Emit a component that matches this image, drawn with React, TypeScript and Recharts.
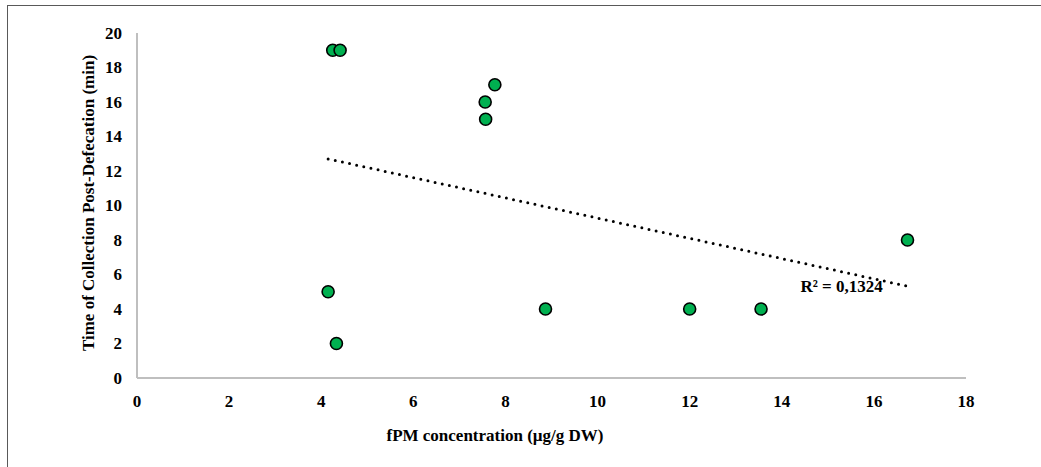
import React from 'react';
import { ScatterChart, Scatter, XAxis, YAxis, ReferenceDot } from 'recharts';

const fpmConcentration = [4.15, 4.33, 4.25, 4.41, 7.56, 7.57, 7.77, 8.87, 12.0, 13.55, 16.73];
const collectionMinutes = [5, 2, 19, 19, 16, 15, 17, 4, 4, 4, 8];
const xTicks = [0, 2, 4, 6, 8, 10, 12, 14, 16, 18];
const yTicks = [0, 2, 4, 6, 8, 10, 12, 14, 16, 18, 20];
const r2Text = 'R² = 0,1324';
const xTitle = 'fPM concentration (µg/g DW)';
const yTitle = 'Time of Collection Post-Defecation (min)';

const points = fpmConcentration.map((x, i) => ({ x, y: collectionMinutes[i] }));

// least-squares linear trendline from the data
const n = points.length;
const mx = fpmConcentration.reduce((a, b) => a + b, 0) / n;
const my = collectionMinutes.reduce((a, b) => a + b, 0) / n;
let sxy = 0;
let sxx = 0;
points.forEach((p) => {
  sxy += (p.x - mx) * (p.y - my);
  sxx += (p.x - mx) * (p.x - mx);
});
const slope = sxy / sxx;
const intercept = my - slope * mx;
const minX = Math.min(...fpmConcentration);
const maxX = Math.max(...fpmConcentration);
const trend = [
  { x: minX, y: intercept + slope * minX },
  { x: maxX, y: intercept + slope * maxX },
];

const FONT = '"Liberation Serif", "Times New Roman", serif';
const FS = 17;

const XTick = (props: any) => {
  const { x, y, payload } = props;
  return (
    <text x={x} y={y} dy={15} textAnchor="middle" dominantBaseline="central" fontFamily={FONT} fontWeight="bold" fontSize={FS} fill="#000">
      {payload.value}
    </text>
  );
};

const YTick = (props: any) => {
  const { x, y, payload } = props;
  return (
    <text x={x - 7} y={y} textAnchor="end" dominantBaseline="central" fontFamily={FONT} fontWeight="bold" fontSize={FS} fill="#000">
      {payload.value}
    </text>
  );
};

const Marker = (props: any) => {
  const { cx, cy } = props;
  if (cx == null || cy == null) return null;
  return <circle cx={cx} cy={cy} r={6} fill="#00B050" stroke="#000" strokeWidth={1.6} />;
};

const NoShape = () => null;

export default function App() {
  return (
    <div style={{ position: 'absolute', left: 0, top: 0, width: 1041, height: 467, overflow: 'hidden', background: '#fff' }}>
      <div
        style={{
          position: 'absolute',
          left: 7,
          top: 5,
          width: 1100,
          height: 500,
          borderLeft: '1.5px solid #595959',
          borderTop: '1.5px solid #595959',
        }}
      />
      <div style={{ position: 'absolute', left: 0, top: 0 }}>
        <ScatterChart width={1041} height={467} margin={{ top: 33, right: 75, left: 0, bottom: 0 }}>
          <XAxis
            type="number"
            dataKey="x"
            domain={[0, 18]}
            ticks={xTicks}
            interval={0}
            height={89}
            tickLine={false}
            axisLine={{ stroke: '#bfbfbf', strokeWidth: 2 }}
            tick={<XTick />}
            label={{
              content: () => (
                <text x={495} y={435} textAnchor="middle" dominantBaseline="central" fontFamily={FONT} fontWeight="bold" fontSize={FS} fill="#000">
                  {xTitle}
                </text>
              ),
            }}
          />
          <YAxis
            type="number"
            dataKey="y"
            domain={[0, 20]}
            ticks={yTicks}
            interval={0}
            width={137}
            tickLine={false}
            axisLine={{ stroke: '#bfbfbf', strokeWidth: 2 }}
            tick={<YTick />}
            label={{
              content: () => (
                <text
                  x={88}
                  y={203}
                  transform="rotate(-90 88 203)"
                  textAnchor="middle"
                  dominantBaseline="central"
                  fontFamily={FONT}
                  fontWeight="bold"
                  fontSize={FS}
                  fill="#000"
                >
                  {yTitle}
                </text>
              ),
            }}
          />
          <Scatter
            data={trend}
            shape={<NoShape />}
            line={{ stroke: '#000', strokeWidth: 3, strokeDasharray: '0 7.3', strokeLinecap: 'round' }}
            isAnimationActive={false}
            legendType="none"
          />
          <Scatter data={points} shape={<Marker />} isAnimationActive={false} />
          <ReferenceDot
            x={15.3}
            y={5.3}
            r={0}
            fill="none"
            stroke="none"
            label={{
              content: (p: any) => {
                const vb = p.viewBox || {};
                return (
                  <text x={vb.x} y={vb.y} textAnchor="middle" dominantBaseline="central" fontFamily={FONT} fontWeight="bold" fontSize={FS} fill="#000">
                    {r2Text}
                  </text>
                );
              },
            }}
          />
        </ScatterChart>
      </div>
    </div>
  );
}
